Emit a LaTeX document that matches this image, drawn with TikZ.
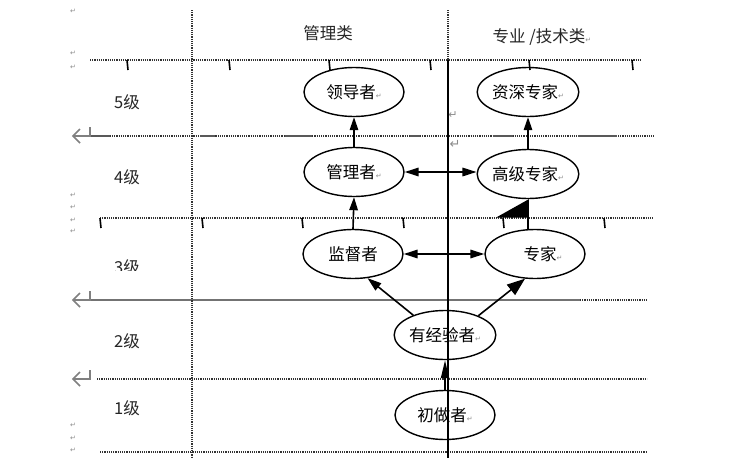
\documentclass[tikz,border=0pt]{standalone}
\usepackage{fontspec}
\setmainfont{Noto Sans CJK SC}
\newfontfamily\dvfont{DejaVu Sans}
\usetikzlibrary{shapes.geometric,arrows.meta}
\newcommand\retmk[1][7]{{\dvfont\fontsize{#1}{#1}\selectfont\textcolor{black!45}{↵}}}
\tikzset{
  dotl/.style={draw=black!80, line width=1.4pt, dash pattern=on 1.1pt off 1.1pt},
  soliddash/.style={draw=black!65, line width=1.8pt},
  tickmk/.style={draw=black, line width=1.6pt},
  role/.style={ellipse, draw=black, line width=1.4pt, minimum width=100pt, minimum height=49pt, inner sep=0pt, font=\fontsize{16.5}{19}\selectfont},
  tip/.style={-{Triangle[length=13pt,width=8.5pt]}, line width=1.6pt},
  dtip/.style={{Triangle[length=14pt,width=8.5pt]}-{Triangle[length=14pt,width=8.5pt]}, line width=1.6pt},
  lvl/.style={font=\fontsize{16.5}{19}\selectfont, text=black!85},
  head/.style={font=\fontsize{16.5}{19}\selectfont, text=black!85},
  bigret/.style={draw=black!50, line width=1.5pt},
  mk/.style={inner sep=0pt},
}
\begin{document}
\begin{tikzpicture}[x=1pt,y=-1pt]
\fill[white] (0,0) rectangle (755,458);
\useasboundingbox (0,0) rectangle (755,458);

% horizontal grid lines
\draw[dotl] (90,60) -- (642,60);
\draw[dotl] (90,136) -- (655,136);
\foreach \a/\b in {90/110,200/215,285/312,410/420,493/513,578/617}
  \draw[soliddash] (\a,136) -- (\b,136);
\draw[dotl] (100,218) -- (653,218);
\draw[draw=black!55, line width=1.6pt] (90,300) -- (580,300);
\draw[dotl] (580,300) -- (648,300);
\draw[dotl] (97,379) -- (647,379);
\draw[dotl] (100,452) -- (647,452);

% vertical lines
\draw[dotl] (192,10) -- (192,458);
\draw[dotl] (448,10) -- (448,60);

% ticks
\foreach \x in {127,229,329,430,529,632} \draw[tickmk] (\x,60) -- ({\x+1},70);
\foreach \x in {100,202,302,403,503,604} \draw[tickmk] (\x,218) -- ({\x+1},228);

% big return marks
\foreach \y in {136,300,379} {
  \draw[bigret] (90,{\y-9}) -- (90,\y) -- (73,\y);
  \draw[bigret] (80,{\y-7}) -- (73,\y) -- (80,{\y+7});
}

% small return marks
\foreach \y in {11,53,67,195,207,220,231,425,438,450}
  \node[mk] (rm\y) at (73,\y) {\retmk};
\node[mk] (rmA) at (453,115) {\retmk[11]};
\node[mk] (rmB) at (455,144) {\retmk[13]};

% headers
\node[head] (h1) at (328,33) {管理类};
\node[head] (h2) at (542,37) {专业 /技术类\retmk};

% level labels
\node[lvl] (l5) at (127,102) {5级};
\node[lvl] (l4) at (127,177) {4级};
\begin{scope}
  \clip (100,240) rectangle (160,270);
  \node[lvl] (l3) at (127,267) {3级};
\end{scope}
\node[lvl] (l2) at (127,341) {2级};
\node[lvl] (l1) at (127,408) {1级};

% role nodes
\node[role] (lead) at (354,92) {领导者\retmk};
\node[role] (sen) at (528,92) {资深专家\retmk};
\node[role] (mgr) at (354,172) {管理者\retmk};
\node[role] (hi) at (528,174) {高级专家\retmk};
\node[role] (sup) at (353,254) {监督者};
\node[role] (exp) at (535,254) {\hspace{16pt}专家\retmk};
\node[role] (exd) at (445,335) {有经验者\retmk};
\node[role] (beg) at (445,415) {初做者\retmk};

% connectors
\draw[tip] (mgr.north) -- (lead.south);
\draw[tip] (sup.north) -- (mgr.south);
\draw[tip] (hi.north) -- (sen.south);
\draw[line width=1.6pt, -{Triangle[left,length=18pt,width=64pt]}] (exp.north -| hi.south) -- (hi.south);
\draw[dtip] (mgr.east) -- (mgr.east -| hi.west);
\draw[dtip] (sup.east) -- (exp.west);
\draw[line width=1.6pt, -{Triangle[length=14pt,width=9pt]}] (exd.148) -- (sup.-59);
\draw[line width=1.6pt, -{Triangle[length=18pt,width=13pt]}] (exd.30) -- (exp.-112);
\draw[line width=1.6pt, -{Triangle[length=18pt,width=8pt]}] (beg.north) -- (exd.south);

% solid vertical line
\draw[line width=2pt] (448,60) -- (448,458);
\end{tikzpicture}
\end{document}
